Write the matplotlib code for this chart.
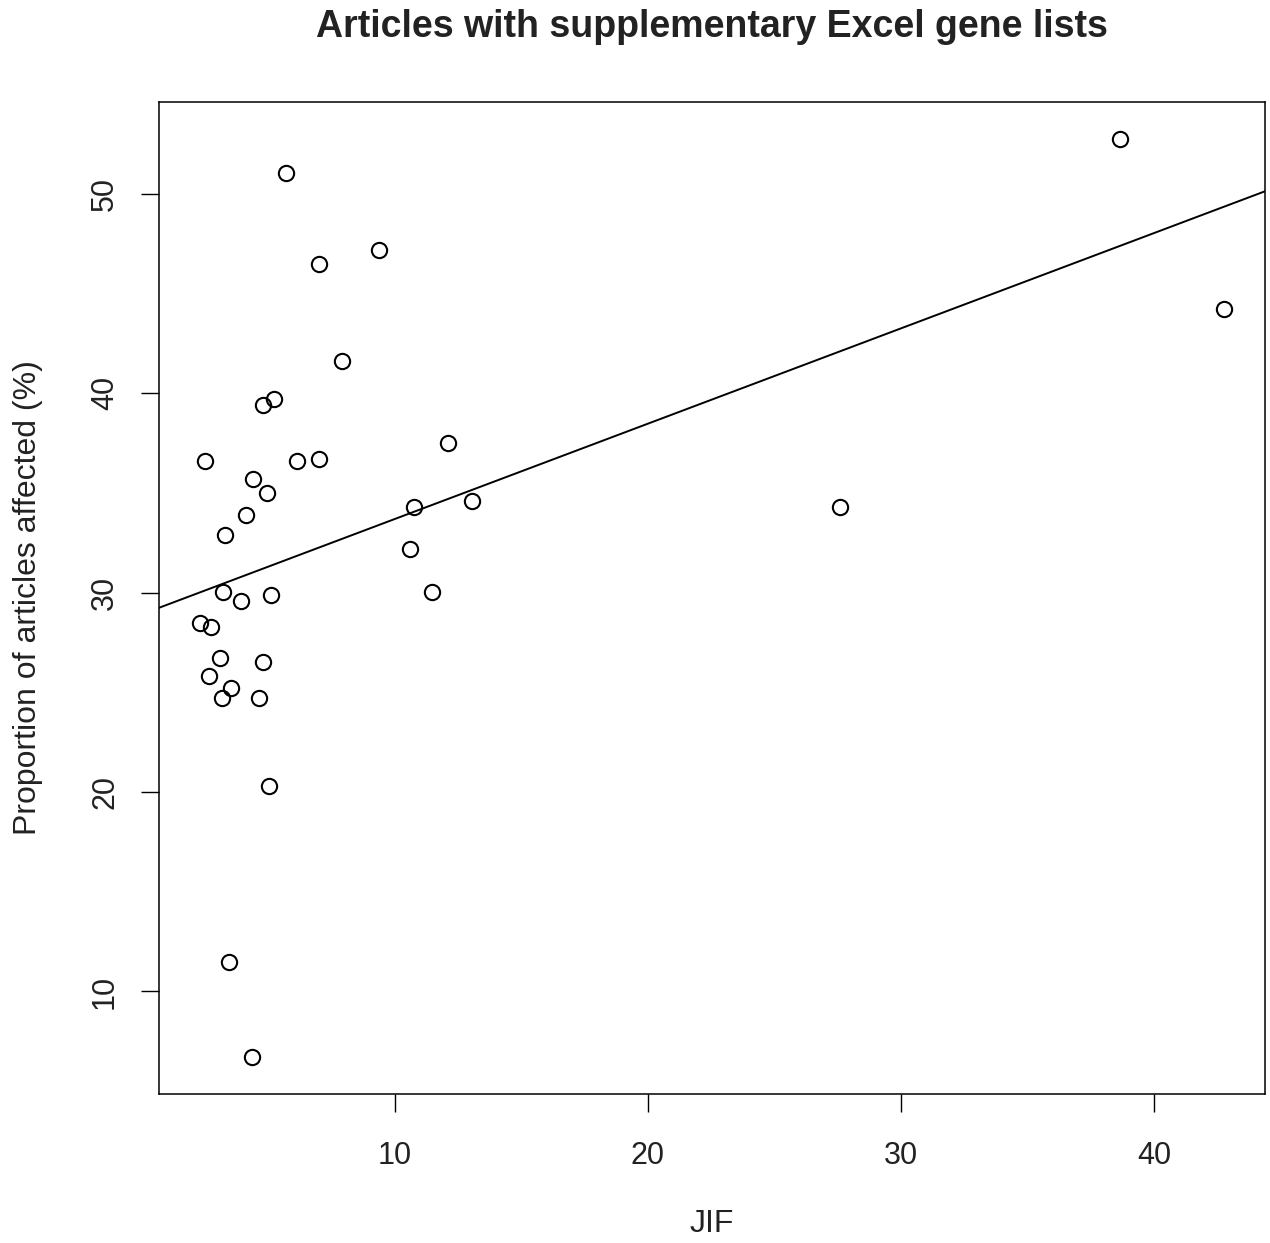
import numpy as np
import matplotlib
matplotlib.use("Agg")
import matplotlib.pyplot as plt

plt.rcParams['font.family'] = ['Liberation Sans', 'DejaVu Sans']

title = "Articles with supplementary Excel gene lists"
xlabel = "JIF"
ylabel = "Proportion of articles affected (%)"

jif = [5.69, 7.0, 9.37, 7.9, 4.78, 5.22, 2.49, 6.13, 7.0, 12.1,
       4.39, 4.94, 4.11, 3.28, 10.75, 13.04, 10.6, 3.2, 3.91, 5.1,
       11.46, 2.29, 2.73, 3.08, 4.78, 2.65, 3.52, 3.16, 4.62, 5.02,
       3.44, 4.35, 27.59, 38.66, 42.77]
prop = [51.06, 46.5, 47.2, 41.6, 39.4, 39.7, 36.6, 36.6, 36.7, 37.5,
        35.7, 35.0, 33.9, 32.9, 34.3, 34.6, 32.2, 30.05, 29.6, 29.9,
        30.05, 28.5, 28.3, 26.7, 26.5, 25.8, 25.2, 24.7, 24.7, 20.3,
        11.5, 6.7, 34.3, 52.76, 44.2]
xticks = [10, 20, 30, 40]
yticks = [10, 20, 30, 40, 50]

x = np.array(jif)
y = np.array(prop)

fig = plt.figure(figsize=(12.70, 12.43), dpi=100)
ax = fig.add_axes([159/1270, 1 - 1094/1243, (1265-159)/1270, (1094-102)/1243])

ax.plot(x, y, linestyle='none', marker='o', markersize=11,
        markerfacecolor='none', markeredgecolor='black', markeredgewidth=1.5)

# R-style 4% axis extension
def ext(a):
    r = a.max() - a.min()
    return a.min() - 0.04 * r, a.max() + 0.04 * r
xl = ext(x)
yl = ext(y)
ax.set_xlim(*xl)
ax.set_ylim(*yl)

slope, intercept = np.polyfit(x, y, 1)
xs = np.array(xl)
ax.plot(xs, intercept + slope * xs, color='black', linewidth=1.4)

ax.set_xticks(xticks)
ax.set_yticks(yticks)
ax.tick_params(direction='out', length=13, width=1.0, labelsize=22,
               colors='black', labelcolor='#222222')
ax.tick_params(axis='x', pad=21)
ax.tick_params(axis='y', pad=15)
for lab in ax.get_yticklabels():
    lab.set_rotation(90)
    lab.set_va('center')
for sp in ax.spines.values():
    sp.set_linewidth(1.1)

ax.set_xlabel(xlabel, fontsize=23, color='#222222')
ax.set_ylabel(ylabel, fontsize=23, color='#222222')
ax.xaxis.set_label_coords(0.5, -(1224 - 1094) / 992)
ax.xaxis.label.set_va('center')
ax.yaxis.set_label_coords(-(159 - 28) / 1106, 0.5)
ax.yaxis.label.set_va('center')
fig.text(712/1270, 1 - 27/1243, title, fontsize=27, fontweight='bold',
         ha='center', va='center', color='#222222')

fig.savefig("out.png", dpi=100)
